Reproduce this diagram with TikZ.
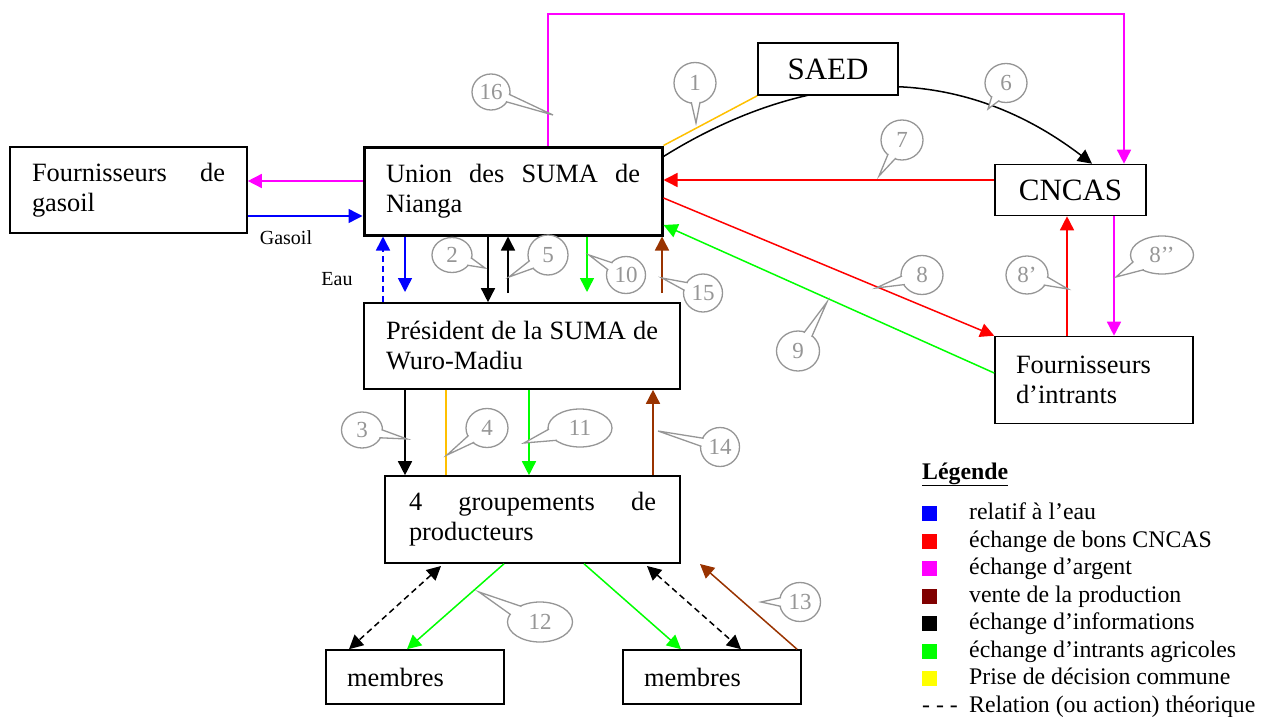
\documentclass[tikz,border=0pt]{standalone}
\usepackage{fontspec}
\setmainfont{Liberation Serif}
\usetikzlibrary{arrows.meta,calc,shapes.geometric}
\hyphenpenalty=10000 \exhyphenpenalty=10000 \tolerance=10000 \hbadness=10000
\definecolor{cblue}{RGB}{0,0,255}
\definecolor{cred}{RGB}{255,0,0}
\definecolor{cmag}{RGB}{255,0,255}
\definecolor{cbrown}{RGB}{153,51,0}
\definecolor{cbrownleg}{RGB}{128,0,0}
\definecolor{cgreen}{RGB}{0,255,0}
\definecolor{cgold}{RGB}{255,192,0}
\definecolor{cyel}{RGB}{255,255,0}
\definecolor{cgrey}{RGB}{150,150,150}
\newcommand\mycallout[7]{%
  \node[co, minimum width=#4, minimum height=#5] (#1) at (#2,#3) {#6};
  \path let \p1=($(#7)-(#1.center)$), \n1={atan2(\y1,\x1)}, \n2={\n1+13}, \n3={\n1-13} in
    coordinate (#1a) at ($(#1.\n2)!1.6pt!(#1.center)$)
    coordinate (#1b) at ($(#1.\n3)!1.6pt!(#1.center)$);
  \filldraw[cof] (#1a) -- (#7) -- (#1b);
}
\begin{document}
\begin{tikzpicture}[x=1pt,y=-1pt,
  box/.style={draw, fill=white, line width=1.6pt, rectangle, inner ysep=0pt,
    font=\fontsize{26.4}{30}\selectfont},
  jbox/.style={box, align=justify},
  conn/.style={line width=1.5pt},
  tip/.style={-{Triangle[length=14pt,width=14pt]}},
  btip/.style={{Triangle[length=14pt,width=14pt]}-{Triangle[length=14pt,width=14pt]}},
  dsh/.style={dash pattern=on 6pt off 4pt},
  co/.style={ellipse, draw=cgrey, fill=white, line width=1.3pt, inner sep=0pt,
    text=cgrey, font=\fontsize{23}{25}\selectfont},
  cof/.style={draw=cgrey, fill=white, line width=1.3pt, line join=miter},
  small/.style={font=\fontsize{20}{22}\selectfont, inner sep=0pt},
  leg/.style={font=\fontsize{23.8}{27}\selectfont, inner sep=0pt, anchor=base west},
  sq/.style={minimum size=15pt, inner sep=0pt, draw=none},
]
\useasboundingbox (0,0) rectangle (1261,717);

% nodes
\node[jbox, minimum width=237pt, minimum height=86pt, text width=193pt, inner xsep=22pt] (gas) at (128.5,190) {Fournisseurs de gasoil};
\node[jbox, line width=3pt, minimum width=298pt, minimum height=88pt, text width=254pt, inner xsep=22pt] (union) at (513,191) {Union des SUMA de Nianga};
\node[box, minimum width=151pt, minimum height=51pt, font=\fontsize{31}{34}\selectfont] (cncas) at (1070.5,190) {CNCAS};
\node[jbox, minimum width=316pt, minimum height=86pt, text width=272pt, inner xsep=22pt] (pres) at (522,346) {Président de la SUMA de Wuro-Madiu};
\node[jbox, minimum width=295pt, minimum height=87pt, text width=247pt, inner xsep=24pt] (grp) at (532.5,519.5) {4 groupements de producteurs};
\node[box, align=left, minimum width=198pt, minimum height=87pt, text width=156pt, inner xsep=21pt] (int) at (1094,380) {Fournisseurs d’intrants};
\node[box, align=left, minimum width=178pt, minimum height=54pt, text width=136pt, inner xsep=21pt] (mem1) at (415,677) {membres};
\node[box, align=left, minimum width=178pt, minimum height=54pt, text width=136pt, inner xsep=21pt] (mem2) at (712,677) {membres};

% curve 6 (passes behind SAED)
\draw[conn, tip] ($(union.north east)+(0,11)$) .. controls (770,90) and (930,40) .. (1092,0 |- cncas.north);
\node[box, minimum width=140pt, minimum height=52pt, font=\fontsize{31}{34}\selectfont] (saed) at (828,69) {SAED};

% magenta 16
\coordinate (m16a) at (548,14);
\draw[conn, cmag, tip] (548,0 |- union.north) -- (m16a) -| (1124,0 |- cncas.north);
% yellow 1
\draw[conn, cgold] (union.north east) -- (saed.south west);
% red 7
\draw[conn, cred, tip] (cncas.west |- 0,180) -- (union.east |- 0,180);
% red 8
\draw[conn, cred, tip] (union.east |- 0,198) -- (int.north west);
% green 9
\draw[conn, cgreen, tip] (int.west |- 0,373) -- (union.east |- 0,225);
% red 8'
\draw[conn, cred, tip] (1067,0 |- int.north) -- (1067,0 |- cncas.south);
% magenta 8''
\draw[conn, cmag, tip] (1114,0 |- cncas.south) -- (1114,0 |- int.north);
% gasoil
\draw[conn, cmag, tip] (union.west |- 0,181) -- (gas.east |- 0,181);
\draw[conn, cblue, tip] (gas.east |- 0,216) -- (union.west |- 0,216);
\node[small] (lgas) at (286,238) {Gasoil};
\node[small] (leau) at (337,279) {Eau};
% union <-> president
\draw[conn, cblue, dsh, tip] (383,0 |- pres.north) -- (383,0 |- union.south);
\coordinate (b1) at (405,292);
\draw[conn, cblue, tip] (405,0 |- union.south) -- (b1);
\draw[conn, tip] (488,0 |- union.south) -- (488,0 |- pres.north);
\coordinate (k5) at (508,293);
\draw[conn, tip] (k5) -- (508,0 |- union.south);
\coordinate (g10) at (587,292);
\draw[conn, cgreen, tip] (587,0 |- union.south) -- (g10);
\coordinate (br15) at (662,293);
\draw[conn, cbrown, tip] (br15) -- (662,0 |- union.south);
% president <-> groupements
\draw[conn, tip] (405,0 |- pres.south) -- (405,0 |- grp.north);
\draw[conn, cgold] (446,0 |- pres.south) -- (446,0 |- grp.north);
\draw[conn, cgreen, tip] (529,0 |- pres.south) -- (529,0 |- grp.north);
\draw[conn, cbrown, tip] (653,0 |- grp.north) -- (653,0 |- pres.south);
% groupements <-> membres
\coordinate (d1) at (441,566);
\draw[conn, dsh, btip] (d1) -- (349,0 |- mem1.north);
\draw[conn, cgreen, tip] (504,0 |- grp.south) -- (407,0 |- mem1.north);
\draw[conn, cgreen, tip] (584,0 |- grp.south) -- (681,0 |- mem2.north);
\coordinate (d2) at (647,566);
\draw[conn, dsh, btip] (d2) -- (741,0 |- mem2.north);
\coordinate (br13) at (700,564);
\draw[conn, cbrown, tip] (797,0 |- mem2.north) -- (br13);

% callouts
\mycallout{c16}{491}{92}{38pt}{36pt}{16}{553,115}
\mycallout{c1}{695}{83}{42pt}{41pt}{1}{696,123}
\mycallout{c6}{1006}{83}{42pt}{39pt}{6}{988,109}
\mycallout{c7}{902}{140}{42pt}{40pt}{7}{879,176}
\mycallout{c2}{452}{255}{40pt}{35pt}{2}{485,268}
\mycallout{c5}{548}{255}{40pt}{40pt}{5}{509,277}
\mycallout{c10}{626}{275}{39pt}{37pt}{10}{589,255}
\mycallout{c15}{703}{293}{39pt}{38pt}{15}{662,278}
\mycallout{c3}{362}{430}{41pt}{36pt}{3}{407,439}
\mycallout{c4}{487}{428}{42pt}{39pt}{4}{447,455}
\mycallout{c11}{580}{428}{64pt}{38pt}{11}{524,443}
\mycallout{c14}{720}{447}{39pt}{39pt}{14}{658,431}
\mycallout{c12}{540}{622}{65pt}{40pt}{12}{479,592}
\mycallout{c13}{800}{602}{41pt}{39pt}{13}{761,602}
\mycallout{c8}{922}{275}{42pt}{39pt}{8}{876,288}
\mycallout{c9}{798}{351}{43pt}{40pt}{9}{827,302}
\mycallout{c8a}{1027}{275}{42pt}{38pt}{8’}{1068,289}
\mycallout{c8b}{1162}{255}{63pt}{38pt}{8’’}{1116,277}

% legend
\node[leg] (ltitle) at (922,479) {\underline{\textbf{Légende}}};
\node[sq, fill=cblue] (lsq1) at (929.5,513) {};
\node[sq, fill=cred] (lsq2) at (929.5,541) {};
\node[sq, fill=cmag] (lsq3) at (929.5,568) {};
\node[sq, fill=cbrownleg] (lsq4) at (929.5,596) {};
\node[sq, fill=black] (lsq5) at (929.5,623) {};
\node[sq, fill=cgreen] (lsq6) at (929.5,651) {};
\node[sq, fill=cyel] (lsq7) at (929.5,678) {};
\node[leg] (ltx1) at (969,519) {relatif à l’eau};
\node[leg] (ltx2) at (969,547) {échange de bons CNCAS};
\node[leg] (ltx3) at (969,574) {échange d’argent};
\node[leg] (ltx4) at (969,602) {vente de la production};
\node[leg] (ltx5) at (969,629) {échange d’informations};
\node[leg] (ltx6) at (969,657) {échange d’intrants agricoles};
\node[leg] (ltx7) at (969,684) {Prise de décision commune};
\node[leg] (ldash) at (922,712) {- - -};
\node[leg] (ltx8) at (969,712) {Relation (ou action) théorique};
\end{tikzpicture}
\end{document}
